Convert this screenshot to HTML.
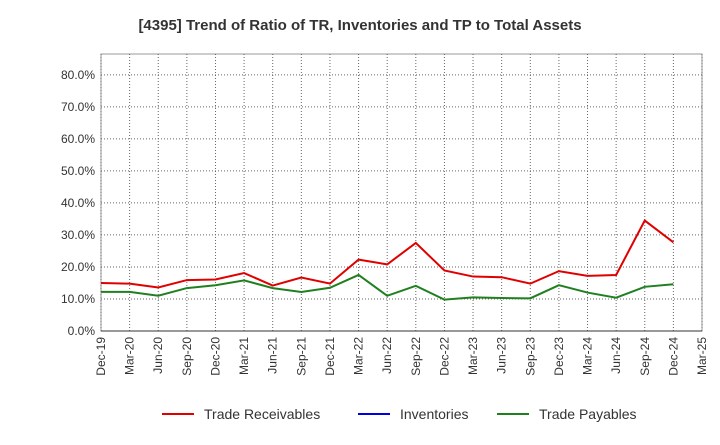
<!DOCTYPE html>
<html><head><meta charset="utf-8"><style>
body{margin:0;background:#fff;font-family:"Liberation Sans",sans-serif}
</style></head><body>
<svg id="c" width="720" height="440" xmlns="http://www.w3.org/2000/svg">
<text x="360" y="30" text-anchor="middle" font-size="15" font-weight="bold" fill="#333">[4395]  Trend of Ratio of TR, Inventories and TP to Total Assets</text>
</svg>
<script>
const categories=["Dec-19","Mar-20","Jun-20","Sep-20","Dec-20","Mar-21","Jun-21","Sep-21","Dec-21","Mar-22","Jun-22","Sep-22","Dec-22","Mar-23","Jun-23","Sep-23","Dec-23","Mar-24","Jun-24","Sep-24","Dec-24","Mar-25"];
const tradeReceivables=[15.0,14.8,13.6,15.9,16.1,18.1,14.2,16.7,14.8,22.3,20.8,27.5,18.9,17.0,16.8,14.8,18.7,17.2,17.5,34.5,27.7];
const inventories=[];
const tradePayables=[12.2,12.2,11.0,13.4,14.3,15.8,13.4,12.2,13.5,17.5,11.0,14.1,9.8,10.5,10.3,10.2,14.3,12.0,10.4,13.8,14.6];
const yTicks=[0,10,20,30,40,50,60,70,80];
const svg=document.getElementById('c');const NS="http://www.w3.org/2000/svg";
const L=101,R=702,T=54,B=331,yMax=86.5;
const x=i=>L+(R-L)*i/(categories.length-1);
const y=v=>B-(B-T)*v/yMax;
function mk(t,a,p){const e=document.createElementNS(NS,t);for(const k in a)e.setAttribute(k,a[k]);(p||svg).appendChild(e);return e;}
const bg=mk('rect',{x:L,y:T,width:R-L,height:B-T,fill:'#fff',stroke:'#999'});


yTicks.forEach(v=>{
 const g=mk('line',{x1:L,x2:R,y1:y(v),y2:y(v),stroke:'#666','stroke-dasharray':'1,2','stroke-width':1});
 
 
 const t=mk('text',{x:L-6,y:y(v)+4,'text-anchor':'end','font-size':12,fill:'#333'});t.textContent=v.toFixed(1)+'%';
 
 
});
categories.forEach((c,i)=>{
 const g=mk('line',{x1:x(i),x2:x(i),y1:T,y2:B,stroke:'#666','stroke-dasharray':'1,2','stroke-width':1});
 
 
 const t=mk('text',{'text-anchor':'end','font-size':12,fill:'#333',transform:`translate(${x(i)+4},${B+6}) rotate(-90)`});t.textContent=c;
 
 
});
const ax=mk('line',{x1:L,x2:R,y1:B,y2:B,stroke:'#333'});


function series(d,col,name){if(!d.length)return;
 const p=mk('polyline',{points:d.map((v,i)=>x(i)+','+y(v)).join(' '),fill:'none',stroke:col,'stroke-width':2});
 
 }
series(tradeReceivables,'#e00000','trade-receivables-line');
series(inventories,'#0000e0','inventories-line');
series(tradePayables,'#208020','trade-payables-line');
[["Trade Receivables","#e00000",162],["Inventories","#0000e0",358],["Trade Payables","#208020",497]].forEach(([n,c,lx])=>{
 const g=mk('g',{});
 
 
 mk('line',{x1:lx,x2:lx+32,y1:414,y2:414,stroke:c,'stroke-width':2},g);
 const t=mk('text',{x:lx+42,y:419,'font-size':14,fill:'#333'},g);t.textContent=n;
});
</script>
</body></html>
